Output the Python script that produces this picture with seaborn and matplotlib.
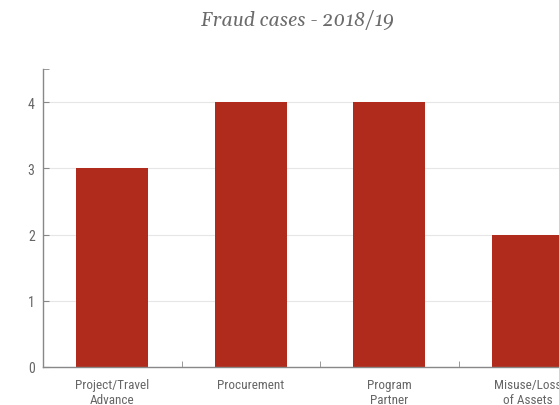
import matplotlib
matplotlib.use("Agg")
import matplotlib.pyplot as plt
import seaborn as sns
from matplotlib.ticker import FixedLocator

# data
categories = ["Project/Travel\nAdvance", "Procurement", "Program\nPartner", "Misuse/Loss\nof Assets"]
cases = [3, 4, 4, 2]

sns.set_style("white")
plt.rcParams['font.family'] = ['Roboto Condensed', 'Archivo Narrow', 'DejaVu Sans']

fig = plt.figure(figsize=(5.59, 4.06), dpi=100)
# axes deliberately runs past the right edge, like the reference crop
ax = fig.add_axes([43 / 559, 38 / 406, 554 / 559, 298 / 406])

sns.barplot(x=categories, y=cases, color="#b02b1b", width=0.52, saturation=1,
            linewidth=0, ax=ax)

ax.set_xlim(-0.5, 3.5)
ax.set_ylim(0, 4.5)
ax.set_yticks([0, 1, 2, 3, 4])
ax.yaxis.set_minor_locator(FixedLocator([4.5]))
ax.xaxis.set_minor_locator(FixedLocator([0.5, 1.5, 2.5]))
ax.grid(axis="y", color="#e6e6e6", linewidth=0.8)
ax.set_axisbelow(True)

for s in ["top", "right"]:
    ax.spines[s].set_visible(False)
for s in ["left", "bottom"]:
    ax.spines[s].set_color("#888888")
    ax.spines[s].set_linewidth(1.0)

ax.tick_params(axis="x", which="both", bottom=True)
ax.tick_params(axis="y", which="both", left=True)
ax.tick_params(axis="x", which="major", length=0, pad=8, labelsize=9.5, labelcolor="#666666")
ax.tick_params(axis="x", which="minor", direction="in", length=4, color="#888888")
ax.tick_params(axis="y", which="both", direction="in", length=4, color="#888888",
               pad=6, labelsize=10, labelcolor="#666666")
ax.set_xlabel("")
ax.set_ylabel("")

fig.text(297 / 559, 1 - 20 / 406, "Fraud cases - 2018/19", ha="center", va="center",
         fontsize=14, style="italic", color="#6b6b6b", family=["Gelasio", "DejaVu Serif"])

fig.savefig("out.png", dpi=100)
